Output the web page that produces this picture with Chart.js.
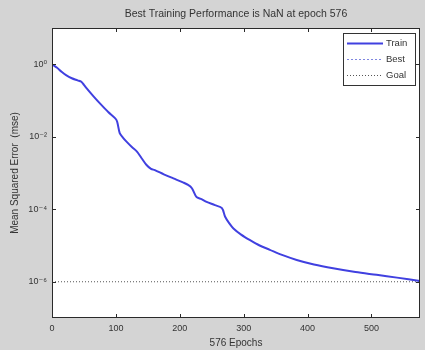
<!DOCTYPE html>
<html><head><meta charset="utf-8">
<script src="https://cdn.jsdelivr.net/npm/chart.js@4/dist/chart.umd.min.js"></script>
<style>html,body{margin:0;padding:0;background:#d4d4d4;overflow:hidden}#wrap{width:425px;height:350px;position:relative}</style>
</head><body><div id="wrap"><canvas id="c" width="425" height="350"></canvas></div>
<script>
const titleText = "Best Training Performance is NaN at epoch 576";
const xTitle = "576 Epochs";
const yTitle = "Mean Squared Error  (mse)";
const seriesNames = ["Train", "Best", "Goal"];
const epochs   = [0, 8, 15, 22, 31, 40, 46, 50, 54, 65, 75, 88, 99, 102, 106, 111, 117, 125, 133, 140, 148, 155, 161, 175, 190, 205, 213, 219, 226, 234, 242, 255, 266, 271, 277, 284, 296, 310, 325, 341, 360, 383, 410, 440, 475, 508, 540, 576];
const trainMse = [1.0, 0.80, 0.62, 0.50, 0.41, 0.36, 0.33, 0.27, 0.22, 0.13, 0.083, 0.048, 0.032, 0.026, 0.0126, 0.0095, 0.0072, 0.0052, 0.0039, 0.0026, 0.00166, 0.0013, 0.0012, 9.2e-4, 7.1e-4, 5.5e-4, 4.7e-4, 3.8e-4, 2.2e-4, 1.9e-4, 1.6e-4, 1.3e-4, 1.07e-4, 6.2e-5, 4.2e-5, 2.95e-5, 2.0e-5, 1.4e-5, 1.0e-5, 7.6e-6, 5.5e-6, 4.0e-6, 3.0e-6, 2.35e-6, 1.85e-6, 1.55e-6, 1.3e-6, 1.05e-6];
const bestEpochs = [];
const bestMse = [];
const goalEpochs = [0, 576];
const goalMse = [1e-6, 1e-6];
const xTicks = [0, 100, 200, 300, 400, 500];
const yTicks = [1, 1e-2, 1e-4, 1e-6];
const yTickLabels = ["10⁰", "10⁻²", "10⁻⁴", "10⁻⁶"];

const FONT = "'Liberation Sans', Arial, 'DejaVu Sans', sans-serif";
const TXT = '#333333';
const toPts = (xs, ys) => xs.map((x, i) => ({x: x, y: ys[i]}));

const frame = {
  id: 'frame',
  beforeDraw(chart) {
    const {ctx, chartArea: a} = chart;
    ctx.save();
    ctx.fillStyle = '#d4d4d4';
    ctx.fillRect(0, 0, chart.width, chart.height);
    ctx.fillStyle = '#ffffff';
    ctx.fillRect(a.left, a.top, a.right - a.left, a.bottom - a.top);
    ctx.restore();
  },
  afterDraw(chart) {
    const {ctx, chartArea: a, scales} = chart;
    ctx.save();
    ctx.strokeStyle = '#2a2a2a';
    ctx.lineWidth = 1;
    ctx.strokeRect(Math.round(a.left) + 0.5, Math.round(a.top) + 0.5, Math.round(a.right - a.left) - 1, Math.round(a.bottom - a.top) - 1);
    ctx.beginPath();
    const tl = 4;
    scales.x.ticks.forEach(t => {
      const px = Math.round(scales.x.getPixelForValue(t.value)) + 0.5;
      ctx.moveTo(px, a.bottom); ctx.lineTo(px, a.bottom - tl);
      ctx.moveTo(px, a.top); ctx.lineTo(px, a.top + tl);
    });
    scales.y.ticks.forEach(t => {
      const py = Math.round(scales.y.getPixelForValue(t.value)) + 0.5;
      ctx.moveTo(a.left, py); ctx.lineTo(a.left + tl, py);
      ctx.moveTo(a.right, py); ctx.lineTo(a.right - tl, py);
    });
    ctx.stroke();

    // legend box inside the axes, top-right
    const ds = chart.data.datasets;
    const bw = 72, bh = 52;
    const bx = a.right - bw - 5, by = a.top + 5;
    ctx.fillStyle = '#ffffff';
    ctx.fillRect(bx, by, bw, bh);
    ctx.strokeStyle = '#333';
    ctx.setLineDash([]);
    ctx.strokeRect(bx + 0.5, by + 0.5, bw, bh);
    ctx.font = '9.5px ' + FONT;
    ctx.textBaseline = 'middle';
    ctx.textAlign = 'left';
    ds.forEach((d, i) => {
      const ly = by + 10.5 + i * 16;
      ctx.beginPath();
      ctx.strokeStyle = d.borderColor;
      ctx.lineWidth = d.borderWidth;
      ctx.setLineDash(d.borderDash || []);
      ctx.moveTo(bx + 4, ly); ctx.lineTo(bx + 40, ly);
      ctx.stroke();
      ctx.setLineDash([]);
      ctx.fillStyle = TXT;
      ctx.fillText(d.label, bx + 43, ly);
    });
    ctx.restore();
  }
};

new Chart(document.getElementById('c'), {
  type: 'line',
  data: {
    datasets: [
      {label: seriesNames[0], data: toPts(epochs, trainMse), borderColor: '#4040e0', borderWidth: 2, pointRadius: 0, tension: 0.3, fill: false},
      {label: seriesNames[1], data: toPts(bestEpochs, bestMse), borderColor: '#7f86e0', borderWidth: 1, borderDash: [2, 2], pointRadius: 0, fill: false},
      {label: seriesNames[2], data: toPts(goalEpochs, goalMse), borderColor: '#555555', borderWidth: 1, borderDash: [1, 2], pointRadius: 0, fill: false}
    ]
  },
  options: {
    responsive: false,
    animation: false,
    devicePixelRatio: 1,
    layout: {padding: {left: 0, right: 5, top: 0, bottom: 0}},
    plugins: {legend: {display: false}, title: {display: false}, tooltip: {enabled: false}},
    scales: {
      t: {
        type: 'linear', position: 'top', min: 0, max: 576,
        grid: {display: false, drawTicks: false}, border: {display: false},
        ticks: {display: false},
        title: {display: true, text: titleText, color: TXT, font: {family: FONT, size: 10.5}, padding: {top: 8, bottom: 0}},
        afterFit: s => { s.height = 28; }
      },
      x: {
        type: 'linear', position: 'bottom', min: 0, max: 576,
        grid: {display: false, drawTicks: false}, border: {display: false},
        afterBuildTicks: s => { s.ticks = xTicks.map(v => ({value: v})); },
        ticks: {color: TXT, font: {family: FONT, size: 9}, padding: 5, maxRotation: 0, autoSkip: false, callback: v => String(v)},
        title: {display: true, text: xTitle, color: TXT, font: {family: FONT, size: 10}, padding: {top: 0, bottom: 1}},
        afterFit: s => { s.height = 32; }
      },
      y: {
        type: 'logarithmic', position: 'left', min: 1e-7, max: 10,
        grid: {display: false, drawTicks: false}, border: {display: false},
        afterBuildTicks: s => { s.ticks = yTicks.map(v => ({value: v})); },
        ticks: {color: TXT, font: {family: FONT, size: 9}, padding: 5, autoSkip: false, callback: (v, i) => yTickLabels[i]},
        title: {display: true, text: yTitle, color: TXT, font: {family: FONT, size: 10}, padding: {top: 9, bottom: 0}},
        afterFit: s => { s.width = 52; }
      }
    }
  },
  plugins: [frame]
});
</script>
</body></html>
